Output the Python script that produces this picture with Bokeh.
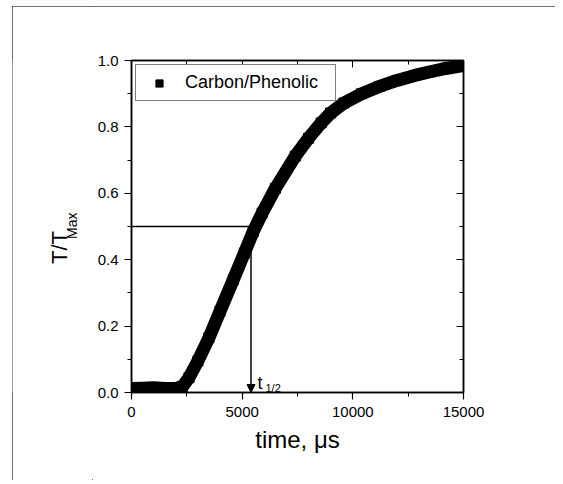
import numpy as np
from bokeh.plotting import figure
from bokeh.layouts import row
from bokeh.models import (Range1d, LinearAxis, Legend, LegendItem, Label, Arrow,
                          NormalHead, FixedTicker, CustomJSTickFormatter)
from bokeh.embed import file_html
from bokeh.resources import INLINE

# ---- data ----
time_us = [0, 500, 1000, 1500, 2000, 2300, 2600, 3000, 3500, 4000, 4600,
           5100, 5500, 5900, 6500, 7400, 8000, 8570, 9000, 9600, 10400, 11200,
           12000, 12800, 13500, 14200, 15000]
t_norm = [0.012, 0.013, 0.014, 0.012, 0.012, 0.018, 0.045, 0.095, 0.165, 0.245,
          0.340, 0.420, 0.485, 0.540, 0.615, 0.712, 0.766, 0.812, 0.842, 0.872,
          0.900, 0.922, 0.940, 0.955, 0.966, 0.976, 0.985]
series_name = "Carbon/Phenolic"
t_half = 5400
half_level = 0.5
x_ticks = [0, 5000, 10000, 15000]
x_minor = [2500, 7500, 12500]
y_ticks = [0.0, 0.2, 0.4, 0.6, 0.8, 1.0]
y_minor = [0.1, 0.3, 0.5, 0.7, 0.9]

FONT = "Liberation Sans"
H = 474

# ---------- narrow panel holding the rotated y title ----------
LW = 80
q = figure(width=LW, height=H, output_backend="svg", toolbar_location=None,
           x_range=Range1d(0, LW), y_range=Range1d(0, H),
           x_axis_type=None, y_axis_type=None, min_border=0)
q.grid.visible = False
q.outline_line_color = None
q.background_fill_color = "white"
q.border_fill_color = "white"
q.add_layout(Label(x=47, y=207, text="T/T", angle=np.pi / 2,
                   text_align="center", text_baseline="middle",
                   text_font=FONT, text_font_size="22px", text_color="black"))
q.add_layout(Label(x=59, y=238, text="Max", angle=np.pi / 2,
                   text_align="center", text_baseline="middle",
                   text_font=FONT, text_font_size="14px", text_color="black"))

# ---------- main plot ----------
p = figure(width=463, height=H, output_backend="svg", toolbar_location=None,
           x_range=Range1d(0, 15000), y_range=Range1d(0, 1),
           min_border_left=39, min_border_right=92, min_border_top=54,
           min_border_bottom=88)
p.grid.visible = False
p.outline_line_color = "black"
p.outline_line_width = 1.5
p.background_fill_color = "white"
p.border_fill_color = "white"

for ax in (p.xaxis[0], p.yaxis[0]):
    ax.axis_line_width = 1.5
    ax.major_tick_line_width = 1.2
    ax.minor_tick_line_width = 1.0
    ax.major_tick_out = 7
    ax.major_tick_in = 0
    ax.minor_tick_out = 4
    ax.minor_tick_in = 0
    ax.major_label_text_font = FONT
    ax.major_label_text_font_size = "15px"
    ax.major_label_text_color = "black"
p.xaxis[0].ticker = FixedTicker(ticks=x_ticks, minor_ticks=x_minor)
p.yaxis[0].ticker = FixedTicker(ticks=y_ticks, minor_ticks=y_minor)
p.xaxis[0].major_label_standoff = 7
p.yaxis[0].major_label_standoff = 6
p.yaxis[0].formatter = CustomJSTickFormatter(code="return tick.toFixed(1);")
p.xaxis[0].axis_label = "time, \u03bcs"
p.xaxis[0].axis_label_text_font = FONT
p.xaxis[0].axis_label_text_font_size = "24px"
p.xaxis[0].axis_label_text_font_style = "normal"
p.xaxis[0].axis_label_text_color = "black"
p.xaxis[0].axis_label_standoff = 6

top_ax = LinearAxis(ticker=FixedTicker(ticks=x_ticks, minor_ticks=x_minor),
                    major_label_text_font_size="0px", major_tick_in=7, major_tick_out=0,
                    minor_tick_in=4, minor_tick_out=0, axis_line_width=1.5)
right_ax = LinearAxis(ticker=FixedTicker(ticks=y_ticks, minor_ticks=y_minor),
                      major_label_text_font_size="0px", major_tick_in=7, major_tick_out=0,
                      minor_tick_in=4, minor_tick_out=0, axis_line_width=1.5)
p.add_layout(top_ax, "above")
p.add_layout(right_ax, "right")

# guide line at half level and arrow down to t_1/2
p.line([0, t_half], [half_level, half_level], line_color="black", line_width=1.5)
p.add_layout(Arrow(end=NormalHead(size=8, fill_color="black", line_color="black"),
                   x_start=t_half, y_start=half_level, x_end=t_half, y_end=0,
                   line_color="black", line_width=1.5))

# thick data band
p.line(time_us, t_norm, line_color="black", line_width=13, line_join="round")
p.scatter(time_us, t_norm, marker="square", size=10, color="black")

# legend (glyph from an off-range point)
dummy = p.scatter(x=[-50000], y=[-5], marker="square", size=7, color="black")
legend = Legend(items=[LegendItem(label=series_name, renderers=[dummy])],
                location="top_left", margin=4, padding=7, glyph_width=32,
                glyph_height=18, label_standoff=10, label_width=143, label_height=18,
                spacing=0, label_text_font=FONT, label_text_font_size="18px",
                label_text_color="black",
                border_line_color="black", border_line_width=1.2,
                background_fill_alpha=1.0)
p.add_layout(legend)

# t_1/2 annotation
p.add_layout(Label(x=5693, y=0.03, text="t", text_align="left",
                   text_baseline="alphabetic", text_font=FONT,
                   text_font_size="18px", text_color="black"))
p.add_layout(Label(x=6054, y=0.013, text="1/2", text_align="left",
                   text_baseline="alphabetic", text_font=FONT,
                   text_font_size="11px", text_color="black"))

layout = row(q, p, spacing=0)
layout.margin = (6, 0, 0, 12)
layout.styles = {"outline": "1px solid #444", "outline-offset": "-1px"}

open("out.html", "w").write(file_html(layout, INLINE))
